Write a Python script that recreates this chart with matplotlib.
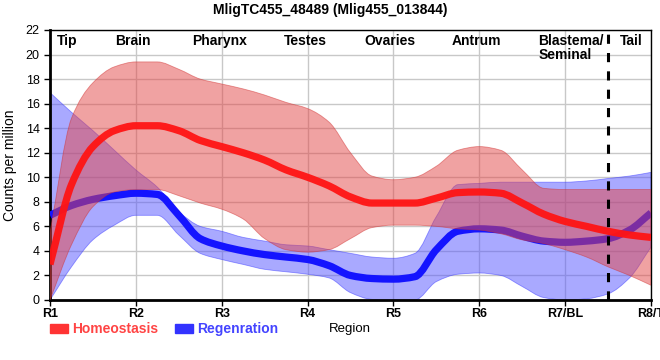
import numpy as np
import matplotlib
matplotlib.use("Agg")
import matplotlib.pyplot as plt
from matplotlib.path import Path
from matplotlib.patches import PathPatch, Patch

plt.rcParams['font.family'] = ['Liberation Sans', 'DejaVu Sans']

# positions along the body (1 = R1 ... 8 = R8/T), read at quarter steps
pos = [1.0, 1.25, 1.5, 1.75, 2.0, 2.25, 2.5, 2.75, 3.0, 3.25, 3.5, 3.75, 4.0, 4.25, 4.5,
       4.75, 5.0, 5.25, 5.5, 5.75, 6.0, 6.25, 6.5, 6.75, 7.0, 7.25, 7.5, 7.75, 8.0]

homeo_mean = [2.9, 9.4, 12.5, 13.8, 14.2, 14.2, 13.8, 13.0, 12.5, 12.0, 11.4, 10.6, 10.0, 9.3, 8.4,
              7.9, 7.9, 7.9, 8.3, 8.75, 8.8, 8.7, 7.9, 7.0, 6.4, 6.0, 5.6, 5.3, 5.1]
homeo_hi = [5.5, 14.8, 17.7, 19.0, 19.4, 19.4, 18.8, 18.0, 17.6, 17.2, 16.7, 16.1, 15.6, 14.5, 12.0,
            10.1, 9.8, 10.0, 10.9, 12.2, 12.5, 12.2, 10.6, 9.1, 9.0, 9.0, 9.0, 9.0, 9.0]
homeo_lo = [0.0, 4.5, 7.6, 8.8, 9.0, 9.0, 8.5, 7.9, 7.4, 6.6, 5.0, 4.1, 3.9, 4.1, 5.0,
            5.9, 6.1, 6.1, 6.0, 5.8, 5.7, 5.4, 4.9, 4.6, 4.1, 3.5, 2.7, 2.0, 1.2]

regen_mean = [6.9, 7.7, 8.2, 8.5, 8.7, 8.6, 6.9, 5.0, 4.4, 4.0, 3.7, 3.5, 3.3, 2.8, 2.0,
              1.75, 1.7, 1.9, 4.1, 5.6, 5.8, 5.7, 5.2, 4.8, 4.7, 4.8, 5.0, 5.7, 7.1]
regen_hi = [16.9, 15.3, 13.8, 12.2, 10.6, 9.2, 7.2, 6.0, 5.6, 5.1, 4.8, 4.5, 4.4, 4.1, 3.8,
            3.5, 3.4, 3.8, 6.8, 9.4, 9.5, 9.6, 9.6, 9.6, 9.6, 9.7, 9.9, 10.1, 10.4]
regen_lo = [0.0, 2.7, 4.9, 6.1, 6.9, 6.9, 5.3, 3.8, 3.3, 2.9, 2.5, 2.3, 2.1, 1.8, 0.6,
            0.05, 0.0, 0.0, 1.5, 2.1, 2.2, 2.0, 1.1, 0.2, 0.0, 0.1, 0.5, 1.8, 4.3]

region_ticks = ['R1', 'R2', 'R3', 'R4', 'R5', 'R6', 'R7/BL', 'R8/T']
tissue_names = ['Tip', 'Brain', 'Pharynx', 'Testes', 'Ovaries', 'Antrum', 'Blastema/\nSeminal', 'Tail']
tissue_x = [1.2, 1.97, 2.98, 3.97, 4.96, 5.97, 6.69, 7.77]
tail_cut = 7.5


def tangents(x, y):
    # monotone (Fritsch-Carlson) slopes, used only to shape the bezier drawing
    x = np.asarray(x, float)
    y = np.asarray(y, float)
    d = np.diff(y) / np.diff(x)
    m = np.zeros_like(y)
    m[0], m[-1] = d[0], d[-1]
    for i in range(1, len(y) - 1):
        if d[i - 1] * d[i] <= 0:
            m[i] = 0
        else:
            m[i] = 2 / (1 / d[i - 1] + 1 / d[i])
    return m


def bezier_segments(x, y):
    m = tangents(x, y)
    verts = [(x[0], y[0])]
    codes = [Path.MOVETO]
    for i in range(len(x) - 1):
        h = x[i + 1] - x[i]
        verts += [(x[i] + h / 3, y[i] + m[i] * h / 3),
                  (x[i + 1] - h / 3, y[i + 1] - m[i + 1] * h / 3),
                  (x[i + 1], y[i + 1])]
        codes += [Path.CURVE4] * 3
    return verts, codes


def smooth_line(ax, x, y, **kw):
    verts, codes = bezier_segments(x, y)
    ax.add_patch(PathPatch(Path(verts, codes), fill=False, capstyle='butt', **kw))


def smooth_band(ax, x, lo, hi, **kw):
    v1, c1 = bezier_segments(x, hi)
    v2, c2 = bezier_segments(x[::-1], lo[::-1])
    c2[0] = Path.LINETO
    verts = v1 + v2 + [v1[0]]
    codes = c1 + c2 + [Path.CLOSEPOLY]
    ax.add_patch(PathPatch(Path(verts, codes), **kw))


fig = plt.figure(figsize=(6.6, 3.6), dpi=100)
ax = fig.add_axes([50 / 660, 1 - 300 / 360, 601 / 660, 270 / 360])

smooth_band(ax, pos, regen_lo, regen_hi, facecolor='#5555ff', alpha=0.5,
            edgecolor='#3333ff', linewidth=0.6, zorder=2)
smooth_line(ax, pos, regen_mean, edgecolor='#1414ff', linewidth=5.2, zorder=3)
smooth_band(ax, pos, homeo_lo, homeo_hi, facecolor='#e34646', alpha=0.5,
            edgecolor='#d03030', linewidth=0.6, zorder=4)
smooth_line(ax, pos, homeo_mean, edgecolor='#ff1414', linewidth=5.2, alpha=0.95, zorder=5)

ax.axvline(tail_cut, color='black', linewidth=2.2, linestyle=(0, (3, 3)), zorder=6)

ax.set_xlim(1, 8)
ax.set_ylim(0, 22)
ax.set_yticks(range(0, 23, 2))
ax.set_xticks(range(1, 9))
ax.set_xticklabels(region_ticks, fontweight='bold', fontsize=9)
ax.tick_params(axis='y', labelsize=9, length=4, width=1)
ax.tick_params(axis='x', length=4, width=1, pad=2)
ax.grid(True, color='#c8c8c8', linewidth=1)
ax.set_axisbelow(True)
for side in ['left', 'bottom']:
    ax.spines[side].set_linewidth(2)
for side in ['top', 'right']:
    ax.spines[side].set_linewidth(1)

for name, tx in zip(tissue_names, tissue_x):
    ha = 'left' if '/' in name else 'center'
    ax.text(tx, 21.7, name, ha=ha, va='top', fontsize=10, fontweight='bold',
            linespacing=1.0, zorder=7)

ax.set_ylabel('Counts per million', fontsize=10, labelpad=6)
fig.text(350 / 660, 1 - 329 / 360, 'Region', ha='center', va='center', fontsize=9.5)
fig.suptitle('MligTC455_48489 (Mlig455_013844)', x=330 / 660, y=1 - 3 / 360,
             va='top', fontsize=10, fontweight='bold')

handles = [Patch(color='#ff3333'), Patch(color='#3333ff')]
fig.legend(handles, ['Homeostasis', 'Regenration'], loc='center left',
           bbox_to_anchor=(50 / 660, 1 - 329 / 360), ncol=2, frameon=False,
           labelcolor=['#ff4444', '#4444ff'], prop={'size': 10, 'weight': 'bold'},
           handlelength=1.3, handleheight=0.6, handletextpad=0.3, columnspacing=1.2,
           borderpad=0, borderaxespad=0)

fig.savefig('out.png', dpi=100)
